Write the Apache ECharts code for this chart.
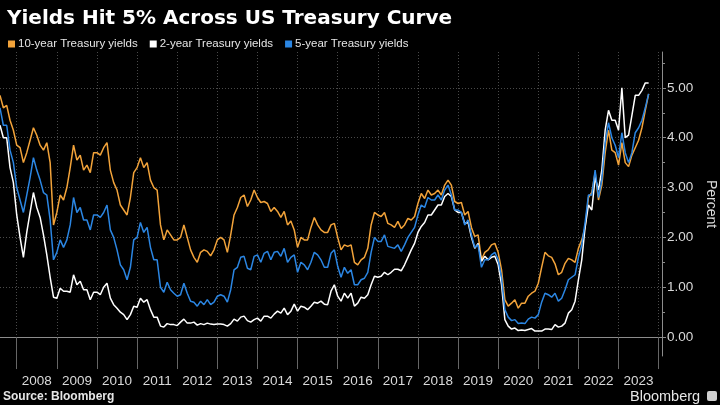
<!DOCTYPE html>
<html>
<head>
<meta charset="utf-8">
<script src="https://cdn.jsdelivr.net/npm/echarts@6/dist/echarts.min.js"></script>
<style>
html,body{margin:0;padding:0;background:#000;}
#chart{width:720px;height:405px;}
</style>
</head>
<body>
<div id="chart"></div>
<script>
// Monthly categories from Aug 2007 through Feb 2024 (axis runs a little past the data)
const startYear = 2007;
const startMonth = 8;
const monthCount = 199;
const categories = [];
for (let i = 0; i < monthCount; i++) {
  const m = (startMonth - 1 + i) % 12 + 1;
  const y = startYear + Math.floor((startMonth - 1 + i) / 12);
  categories.push(y + '-' + String(m).padStart(2, '0'));
}

const seriesNames = ['10-year Treasury yields', '2-year Treasury yields', '5-year Treasury yields'];

const tenYear = [
  4.85, 4.60, 4.65, 4.35, 4.15,
  3.85, 3.80, 3.50, 3.70, 3.95, 4.20, 4.05, 3.85, 3.75, 3.90, 3.50, 2.25,
  2.50, 2.85, 2.75, 3.00, 3.40, 3.85, 3.55, 3.65, 3.35, 3.45, 3.30, 3.70,
  3.70, 3.65, 3.80, 3.90, 3.35, 3.10, 2.95, 2.65, 2.55, 2.45, 2.80, 3.30,
  3.40, 3.60, 3.40, 3.50, 3.15, 3.00, 2.95, 2.25, 1.95, 2.15, 2.05, 1.95,
  1.95, 2.00, 2.25, 2.00, 1.75, 1.60, 1.50, 1.70, 1.75, 1.72, 1.63, 1.75,
  1.95, 2.00, 1.95, 1.70, 2.05, 2.45, 2.60, 2.80, 2.85, 2.62, 2.75, 2.95,
  2.80, 2.70, 2.72, 2.68, 2.52, 2.60, 2.52, 2.40, 2.52, 2.25, 2.33, 2.15,
  1.80, 2.00, 1.95, 1.95, 2.20, 2.40, 2.25, 2.15, 2.10, 2.10, 2.25, 2.28,
  2.00, 1.75, 1.85, 1.82, 1.85, 1.50, 1.45, 1.55, 1.60, 1.78, 2.25, 2.50,
  2.45, 2.42, 2.50, 2.28, 2.25, 2.20, 2.32, 2.18, 2.25, 2.38, 2.35, 2.42,
  2.68, 2.88, 2.78, 2.95, 2.85, 2.88, 2.95, 2.85, 3.05, 3.15, 3.05, 2.72,
  2.68, 2.70, 2.45, 2.52, 2.20, 2.02, 2.05, 1.55, 1.70, 1.75, 1.85, 1.88,
  1.70, 1.35, 0.75, 0.62, 0.68, 0.75, 0.58, 0.68, 0.68, 0.82, 0.88, 0.92,
  1.08, 1.40, 1.70, 1.63, 1.60, 1.47, 1.25, 1.30, 1.48, 1.58, 1.55, 1.50,
  1.78, 1.95, 2.20, 2.80, 2.90, 3.30, 2.75, 3.05, 3.70, 4.15, 3.75, 3.70,
  3.45, 3.90, 3.50, 3.42, 3.65, 3.80, 3.95, 4.20, 4.55, 4.88
];

const twoYear = [
  4.25, 4.00, 4.00, 3.40, 3.10,
  2.45, 2.00, 1.60, 2.10, 2.50, 2.90, 2.60, 2.40, 2.05, 1.65, 1.20, 0.80,
  0.78, 0.98, 0.92, 0.92, 0.90, 1.25, 1.05, 1.12, 0.95, 0.95, 0.75, 0.90,
  0.90, 0.85, 1.00, 1.08, 0.78, 0.65, 0.58, 0.50, 0.45, 0.35, 0.45, 0.62,
  0.60, 0.78, 0.70, 0.75, 0.55, 0.40, 0.40, 0.22, 0.20, 0.27, 0.25, 0.25,
  0.23, 0.30, 0.36, 0.28, 0.28, 0.30, 0.24, 0.27, 0.25, 0.28, 0.26, 0.25,
  0.26, 0.26, 0.25, 0.22, 0.27, 0.36, 0.32, 0.40, 0.42, 0.33, 0.30, 0.35,
  0.38, 0.32, 0.42, 0.42, 0.38, 0.46, 0.52, 0.48, 0.58, 0.45, 0.52, 0.66,
  0.52, 0.62, 0.60, 0.55, 0.62, 0.70, 0.68, 0.72, 0.66, 0.65, 0.92, 1.05,
  0.82, 0.72, 0.88, 0.78, 0.88, 0.62, 0.68, 0.80, 0.78, 0.85, 1.05, 1.22,
  1.20, 1.22, 1.30, 1.25, 1.30, 1.36, 1.36, 1.33, 1.45, 1.60, 1.75, 1.88,
  2.10, 2.22, 2.30, 2.45, 2.45, 2.55, 2.65, 2.65, 2.82, 2.88, 2.82, 2.55,
  2.50, 2.50, 2.28, 2.30, 2.00, 1.78, 1.88, 1.52, 1.62, 1.55, 1.60, 1.62,
  1.45, 1.05, 0.35, 0.22, 0.16, 0.18, 0.13, 0.14, 0.13, 0.15, 0.17, 0.12,
  0.12, 0.12, 0.16, 0.16, 0.15, 0.25, 0.20, 0.22, 0.28, 0.48, 0.55, 0.72,
  1.15, 1.55, 2.20, 2.65, 2.55, 3.20, 2.95, 3.35, 4.15, 4.55, 4.35, 4.35,
  4.15, 5.00, 4.00, 4.05, 4.45, 4.85, 4.85, 4.95, 5.10, 5.10
];

const fiveYear = [
  4.60, 4.25, 4.25, 3.75, 3.50,
  3.00, 2.75, 2.50, 2.85, 3.20, 3.60, 3.35, 3.15, 2.90, 2.85, 2.35, 1.55,
  1.70, 1.95, 1.80, 1.95, 2.25, 2.80, 2.50, 2.60, 2.35, 2.35, 2.15, 2.45,
  2.45, 2.40, 2.50, 2.65, 2.15, 2.00, 1.75, 1.45, 1.35, 1.15, 1.40, 1.95,
  2.00, 2.30, 2.10, 2.20, 1.80, 1.55, 1.55, 1.00, 0.90, 1.10, 0.95, 0.88,
  0.82, 0.85, 1.08, 0.88, 0.72, 0.70, 0.62, 0.72, 0.65, 0.75, 0.65, 0.70,
  0.82, 0.85, 0.82, 0.70, 0.95, 1.35, 1.40, 1.60, 1.62, 1.38, 1.35, 1.62,
  1.65, 1.50, 1.68, 1.72, 1.55, 1.70, 1.72, 1.62, 1.78, 1.50, 1.60, 1.65,
  1.30, 1.50, 1.45, 1.35, 1.50, 1.70, 1.65, 1.55, 1.40, 1.40, 1.68, 1.75,
  1.42, 1.20, 1.40, 1.28, 1.35, 1.05, 1.05, 1.15, 1.18, 1.30, 1.70, 2.00,
  1.92, 1.92, 2.05, 1.82, 1.80, 1.78, 1.85, 1.72, 1.85, 2.00, 2.10, 2.20,
  2.45, 2.65, 2.60, 2.80, 2.75, 2.75, 2.85, 2.75, 2.95, 3.05, 2.85, 2.55,
  2.55, 2.50, 2.25, 2.35, 2.05, 1.80, 1.85, 1.40, 1.55, 1.55, 1.65, 1.70,
  1.55, 1.20, 0.55, 0.40, 0.33, 0.35, 0.27, 0.28, 0.27, 0.36, 0.40, 0.38,
  0.45, 0.70, 0.88, 0.85, 0.80, 0.88, 0.72, 0.78, 0.95, 1.15, 1.20, 1.25,
  1.60, 1.85, 2.30, 2.85, 2.85, 3.35, 2.80, 3.15, 3.90, 4.30, 4.00, 3.85,
  3.60, 4.10, 3.70, 3.50, 3.70, 4.10, 4.20, 4.35, 4.60, 4.88
];

const yTickValues = [0, 1, 2, 3, 4, 5];
const yMinorTickValues = [0.5, 1.5, 2.5, 3.5, 4.5, 5.5];
const colors = ['#f2a33a', '#ffffff', '#2b86e3'];

const chart = echarts.init(document.getElementById('chart'), null, {renderer: 'canvas'});
const axisGrey = '#8c8c8c';
const gridGrey = '#4a4a4a';
const labelGrey = '#d9d9d9';

chart.setOption({
  backgroundColor: '#000000',
  animation: false,
  title: {
    text: 'Yields Hit 5% Across US Treasury Curve',
    left: 2, top: 4,
    textStyle: {color: '#ffffff', fontSize: 20, fontWeight: 'bold', fontFamily: 'DejaVu Sans'}
  },
  legend: {
    left: 3, top: 33,
    icon: 'rect', itemWidth: 7, itemHeight: 7, itemGap: 12,
    textStyle: {color: '#e6e6e6', fontSize: 11.5, fontFamily: 'Liberation Sans', padding: [0, 0, 0, -2]},
    data: seriesNames
  },
  grid: {left: 0, right: 58, top: 52, bottom: 49, containLabel: false, outerBoundsMode: 'none'},
  xAxis: {
    type: 'category',
    data: categories,
    boundaryGap: false,
    axisLine: {show: true, lineStyle: {color: axisGrey, width: 1}},
    axisTick: {show: true, interval: (i, v) => v.endsWith('-01'), length: 32, lineStyle: {color: '#666666'}},
    axisLabel: {
      interval: (i, v) => v.endsWith('-07'),
      formatter: v => v.slice(0, 4),
      color: labelGrey, fontSize: 13.5, fontFamily: 'Liberation Sans', margin: 18
    },
    splitLine: {show: true, interval: (i, v) => v.endsWith('-01'), lineStyle: {color: gridGrey, type: [1, 2]}}
  },
  yAxis: [
    {
      type: 'value', position: 'right', min: -0.38, max: 5.72,
      axisLine: {show: true, lineStyle: {color: axisGrey}},
      axisTick: {show: true, customValues: yTickValues, length: 4, lineStyle: {color: axisGrey}},
      axisLabel: {customValues: yTickValues, formatter: v => v.toFixed(2), color: labelGrey, fontSize: 13.5, fontFamily: 'Liberation Sans', margin: 5},
      splitLine: {show: true, lineStyle: {color: gridGrey, type: [1, 2]}},
      name: 'Percent', nameLocation: 'middle', nameRotate: -90, nameGap: 42,
      nameTextStyle: {color: labelGrey, fontSize: 14, fontFamily: 'Liberation Sans'}
    },
    {
      type: 'value', position: 'right', min: -0.38, max: 5.72,
      axisLine: {show: false},
      axisTick: {show: true, customValues: yMinorTickValues, length: 3, lineStyle: {color: axisGrey}},
      axisLabel: {show: false},
      splitLine: {show: false}
    }
  ],
  graphic: [
    {type: 'text', left: 3, top: 391, style: {text: 'Source: Bloomberg', fill: '#e6e6e6', font: 'bold 12px "Liberation Sans"'}},
    {type: 'text', left: 630, top: 389, style: {text: 'Bloomberg', fill: '#e6e6e6', font: '14.5px "Liberation Sans"'}},
    {type: 'rect', left: 707, top: 391, shape: {width: 10, height: 10, r: 2}, style: {fill: '#cfcfcf'}}
  ],
  series: [
    {name: seriesNames[0], type: 'line', data: tenYear, symbol: 'none', lineStyle: {width: 1.5, color: colors[0]}, itemStyle: {color: colors[0]}},
    {name: seriesNames[1], type: 'line', data: twoYear, symbol: 'none', lineStyle: {width: 1.5, color: colors[1]}, itemStyle: {color: colors[1]}},
    {name: seriesNames[2], type: 'line', data: fiveYear, symbol: 'none', lineStyle: {width: 1.5, color: colors[2]}, itemStyle: {color: colors[2]}}
  ]
});
</script>
</body>
</html>
